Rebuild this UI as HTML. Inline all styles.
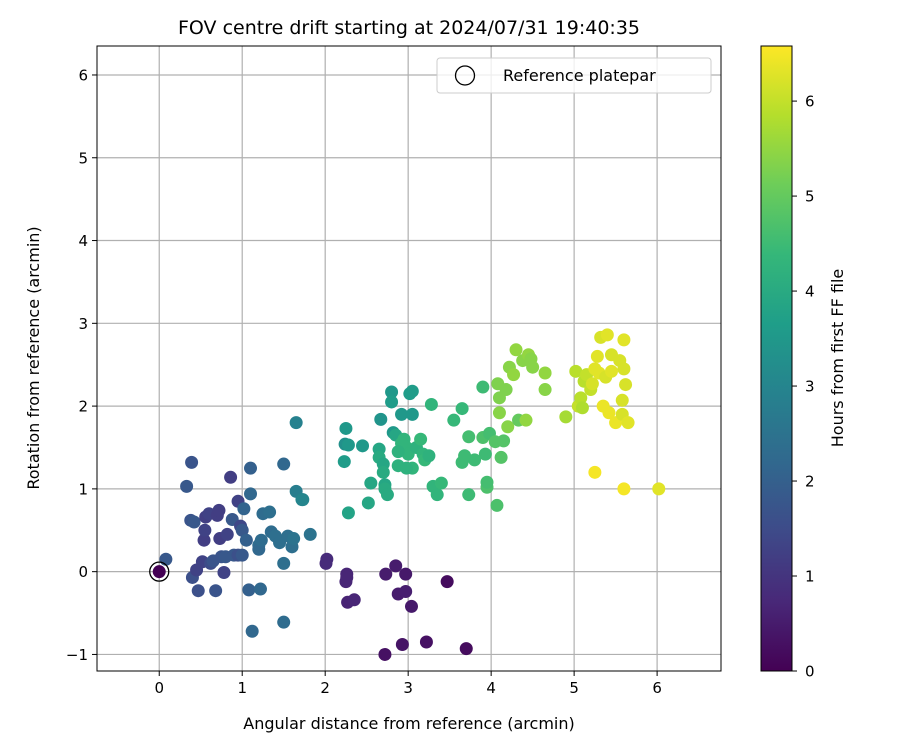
<!DOCTYPE html>
<html><head><meta charset="utf-8"><style>
body{margin:0;background:#fff;}
svg text{font-family:"DejaVu Sans","Liberation Sans",sans-serif;fill:#000;}
</style></head><body>
<svg id="chart" width="900" height="750" xmlns="http://www.w3.org/2000/svg">
<defs>
<linearGradient id="viridis" x1="0" y1="1" x2="0" y2="0"></linearGradient>
<clipPath id="plotclip"><rect x="97" y="46" width="624" height="625"/></clipPath>
</defs>
<g id="grid"></g>
<g id="points" clip-path="url(#plotclip)"></g>
<rect x="97" y="46" width="624" height="625" fill="none" stroke="#000" stroke-width="1"/>
<g id="ticks"></g>
<text x="409" y="34" font-size="19" text-anchor="middle">FOV centre drift starting at 2024/07/31 19:40:35</text>
<text x="409" y="729" font-size="16" text-anchor="middle">Angular distance from reference (arcmin)</text>
<text x="0" y="0" font-size="16" text-anchor="middle" transform="translate(39,358) rotate(-90)">Rotation from reference (arcmin)</text>
<g>
<rect x="437" y="58" width="274" height="35" rx="3" fill="#fff" fill-opacity="0.8" stroke="#ccc"/>
<circle cx="465" cy="75.5" r="9.5" fill="none" stroke="#000" stroke-width="1.3"/>
<text x="503" y="81" font-size="16">Reference platepar</text>
</g>
<rect x="761" y="46" width="31" height="625" fill="url(#viridis)" stroke="#000" stroke-width="1"/>
<g id="cbticks"></g>
<text x="0" y="0" font-size="16" text-anchor="middle" transform="translate(843,358) rotate(-90)">Hours from first FF file</text>
</svg>
<script>
const xs=[2.72,2.93,3.22,3.7,3.47,2.73,2.85,2.97,2.88,2.97,3.04,2.02,2.01,2.26,2.26,2.25,2.27,2.35,
0.08,0.33,0.39,0.38,0.42,0.4,0.45,0.47,0.52,0.54,0.55,0.56,0.6,0.62,0.65,0.68,0.7,0.72,0.73,0.75,0.78,0.8,0.82,0.86,0.88,0.9,0.95,0.98,1.0,1.02,1.05,1.08,1.1,1.1,1.12,1.2,1.2,1.22,1.23,1.25,1.33,1.35,1.4,1.45,1.5,1.5,1.5,1.55,1.6,1.62,1.65,1.65,1.72,1.73,1.82,0.95,1.0,
2.25,2.24,2.28,2.23,2.28,2.45,2.52,2.55,2.65,2.65,2.67,2.7,2.7,2.72,2.72,2.75,2.8,2.8,2.82,2.85,2.88,2.92,2.95,2.98,3.0,3.02,3.05,3.05,3.05,3.1,3.15,3.18,3.2,3.25,3.28,3.3,3.35,3.4,3.55,3.65,3.68,3.65,3.73,3.73,3.8,3.9,3.9,3.93,3.95,3.95,3.98,4.07,4.05,4.12,4.15,2.92,2.98,2.88,
4.08,4.1,4.1,4.18,4.2,4.22,4.27,4.3,4.33,4.38,4.42,4.45,4.48,4.5,4.65,4.65,4.9,
5.02,5.05,5.08,5.1,5.12,5.15,5.2,5.22,5.25,5.28,5.3,5.32,5.38,5.4,5.42,5.45,5.5,5.55,5.58,5.6,5.6,5.58,5.62,5.65,5.25,5.6,6.02,5.35,5.45,0];
const ys=[-1.0,-0.88,-0.85,-0.93,-0.12,-0.03,0.07,-0.03,-0.27,-0.24,-0.42,0.15,0.1,-0.03,-0.07,-0.12,-0.37,-0.34,
0.15,1.03,1.32,0.62,0.6,-0.07,0.02,-0.23,0.12,0.38,0.5,0.66,0.7,0.1,0.13,-0.23,0.68,0.74,0.4,0.18,-0.01,0.18,0.45,1.14,0.63,0.2,0.85,0.55,0.5,0.76,0.38,-0.22,0.94,1.25,-0.72,0.32,0.27,-0.21,0.38,0.7,0.72,0.48,0.43,0.35,1.3,0.1,-0.61,0.43,0.3,0.4,0.97,1.8,0.87,0.87,0.45,0.2,0.2,
1.73,1.54,1.53,1.33,0.71,1.52,0.83,1.07,1.48,1.38,1.84,1.3,1.2,1.05,1.0,0.93,2.17,2.05,1.68,1.65,1.28,1.9,1.6,1.5,1.42,2.15,2.18,1.9,1.25,1.5,1.6,1.42,1.35,1.4,2.02,1.03,0.93,1.07,1.83,1.32,1.4,1.97,0.93,1.63,1.35,2.23,1.62,1.42,1.02,1.08,1.67,0.8,1.57,1.38,1.58,1.55,1.25,1.45,
2.27,2.1,1.92,2.2,1.75,2.47,2.38,2.68,1.83,2.55,1.83,2.62,2.57,2.47,2.4,2.2,1.87,
2.42,2.0,2.1,1.98,2.3,2.38,2.2,2.27,2.45,2.6,2.4,2.83,2.35,2.86,1.92,2.62,1.8,2.55,1.9,2.8,2.45,2.07,2.26,1.8,1.2,1.0,1.0,2.0,2.42,0];
const hours=[0.3,0.35,0.3,0.2,0.2,0.5,0.5,0.45,0.5,0.55,0.45,0.8,0.8,0.7,0.7,0.7,0.65,0.7,
1.8,1.8,1.7,1.7,1.8,1.6,1.3,1.6,1.3,1.2,1.3,1.2,1.3,1.5,1.7,1.7,1.2,1.2,1.2,1.7,1.3,1.8,1.3,1.2,1.8,1.8,1.3,1.4,1.8,2.1,2.0,2.0,2.2,2.0,2.2,2.3,2.2,2.2,2.3,2.3,2.4,2.3,2.4,2.4,2.2,2.4,2.3,2.4,2.4,2.5,2.8,2.9,3.0,3.0,2.5,1.6,1.8,
3.5,3.3,3.5,3.6,3.8,3.5,3.9,3.9,3.9,4.0,3.4,3.9,4.0,3.9,4.0,4.0,3.5,3.6,3.5,3.9,4.2,3.5,4.3,4.3,4.3,3.6,3.6,3.5,4.3,4.2,4.4,4.3,4.4,4.2,4.3,4.3,4.3,4.4,4.4,4.5,4.5,4.4,4.5,4.6,4.5,4.5,4.7,4.5,4.7,4.6,4.6,4.7,4.8,4.8,4.8,4.3,4.2,4.2,
5.3,5.3,5.4,5.3,5.4,5.4,5.5,5.5,5.0,5.4,5.5,5.5,5.4,5.4,5.5,5.4,5.7,
5.9,6.0,5.9,5.8,5.9,6.0,6.0,6.2,6.3,6.3,6.3,6.2,6.2,6.3,6.4,6.2,6.4,6.2,6.2,6.3,6.2,6.2,6.2,6.3,6.5,6.5,6.3,6.4,6.3,0];
const xTicks=[0,1,2,3,4,5,6];
const yTicks=[-1,0,1,2,3,4,5,6];
const cTicks=[0,1,2,3,4,5,6];
const NS="http://www.w3.org/2000/svg";
const X0=97,X1=721,Y0=671,Y1=46,xmin=-0.75,xmax=6.77,ymin=-1.2,ymax=6.35,hmax=6.58;
const sx=v=>X0+(v-xmin)/(xmax-xmin)*(X1-X0);
const sy=v=>Y0-(v-ymin)/(ymax-ymin)*(Y0-Y1);
const sc=h=>671-h/hmax*625;
const V=[[68,1,84],[72,40,120],[62,74,137],[49,104,142],[38,130,142],[31,158,137],[53,183,121],[109,205,89],[180,222,44],[253,231,37]];
function vir(t){t=Math.max(0,Math.min(1,t))*9;const i=Math.min(8,Math.floor(t)),f=t-i;const a=V[i],b=V[i+1];return `rgb(${a.map((c,k)=>Math.round(c+(b[k]-c)*f)).join(',')})`;}
function mk(tag,at,parent){const e=document.createElementNS(NS,tag);for(const k in at)e.setAttribute(k,at[k]);parent.appendChild(e);return e;}
const grad=document.getElementById('viridis');
for(let i=0;i<=9;i++){mk('stop',{offset:(i/9*100)+'%','stop-color':vir(i/9)},grad);}
const grid=document.getElementById('grid'),ticks=document.getElementById('ticks'),cb=document.getElementById('cbticks'),pts=document.getElementById('points');
xTicks.forEach(v=>{const x=sx(v);
const g=mk('line',{x1:x,x2:x,y1:Y1,y2:Y0,stroke:'#b0b0b0','stroke-width':1.2},grid);


mk('line',{x1:x,x2:x,y1:Y0,y2:Y0+5,stroke:'#000'},ticks);
const t=mk('text',{x:x,y:Y0+22,'font-size':15,'text-anchor':'middle'},ticks);t.textContent=v<0?'\u2212'+(-v):v;

});
yTicks.forEach(v=>{const y=sy(v);
const g=mk('line',{x1:X0,x2:X1,y1:y,y2:y,stroke:'#b0b0b0','stroke-width':1.2},grid);


mk('line',{x1:X0-5,x2:X0,y1:y,y2:y,stroke:'#000'},ticks);
const t=mk('text',{x:X0-9,y:y+5.5,'font-size':15,'text-anchor':'end'},ticks);t.textContent=v<0?'\u2212'+(-v):v;

});
cTicks.forEach(v=>{const y=sc(v);
mk('line',{x1:792,x2:797,y1:y,y2:y,stroke:'#000'},cb);
const t=mk('text',{x:805,y:y+5.5,'font-size':15},cb);t.textContent=v;

});
xs.forEach((x,i)=>{const c=mk('circle',{cx:sx(x),cy:sy(ys[i]),r:6.5,fill:vir(hours[i]/hmax)},pts);

});
const ref=mk('circle',{cx:sx(0),cy:sy(0),r:9.5,fill:'none',stroke:'#000','stroke-width':1.3},pts);


</script>
</body></html>
